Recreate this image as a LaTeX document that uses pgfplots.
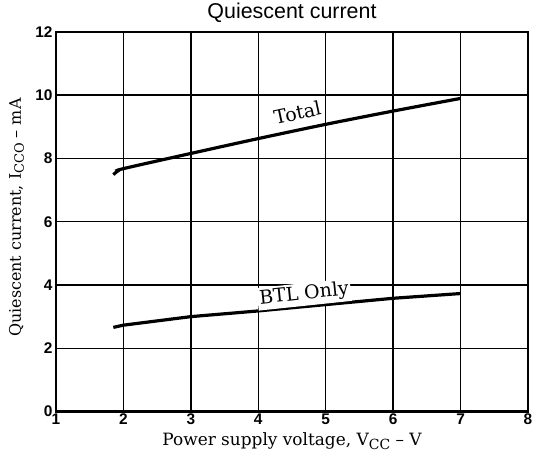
\documentclass[border=0pt]{standalone}
\usepackage{pgfplots}
\pgfplotsset{compat=1.18}
\usepackage{fontspec}
\setmainfont{DejaVu Serif}
\newfontfamily\hel{Liberation Sans}

\begin{document}
\begin{tikzpicture}
\begin{axis}[
  at={(0,0)}, anchor=south west,
  scale only axis, width=472bp, height=379.5bp,
  xmin=1, xmax=8, ymin=0, ymax=12,
  xtick={1,...,8}, xticklabels={1,2,3,4,5,6,7,8},
  ytick={0,2,...,12}, yticklabels={0,2,4,6,8,10,12},
  ticklabel style={font=\hel\bfseries\fontsize{15.5}{15.5}\selectfont},
  xticklabel style={yshift=1bp},
  major tick length=0pt,
  grid=major, grid style={black, line width=1.5bp},
  axis line style={black, line width=2.2bp},
  title={Quiescent current},
  title style={font=\hel\fontsize{21.5}{21.5}\selectfont, at={(0.5,1.0)}, anchor=base, yshift=8bp},
  xlabel={Power supply voltage, V\raisebox{-0.35ex}{\fontsize{14}{14}\selectfont CC} – V},
  xlabel style={font=\fontsize{17}{17}\selectfont, at={(0.5,-0.0909)}, anchor=base},
  ylabel={Quiescent current, I\raisebox{-0.35ex}{\fontsize{13}{13}\selectfont CCO} – mA},
  ylabel style={font=\fontsize{16}{16}\selectfont, at={(-0.0742,0.511)}, anchor=base, rotate=0},
  clip=false,
]
\addplot[black, line width=3.2bp, smooth] coordinates {
  (1.85,7.49) (1.92,7.61) (2,7.68) (3,8.16) (4,8.63) (5,9.08) (6,9.50) (7,9.90)
};
\addplot[black, line width=3.2bp] coordinates {
  (1.85,2.66) (2,2.73) (3,3.00) (4,3.18) (5,3.38) (6,3.58) (7,3.73)
};
\node[rotate=12, font=\fontsize{19}{19}\selectfont] at (axis cs:4.58,9.45) {Total};
\node[rotate=6, fill=white, inner sep=2bp, font=\fontsize{19}{19}\selectfont] at (axis cs:4.68,3.70) {BTL Only};
\end{axis}
\pgfresetboundingbox
\useasboundingbox (-56bp,-47.5bp) rectangle (478bp,411.5bp);
\end{tikzpicture}
\end{document}
